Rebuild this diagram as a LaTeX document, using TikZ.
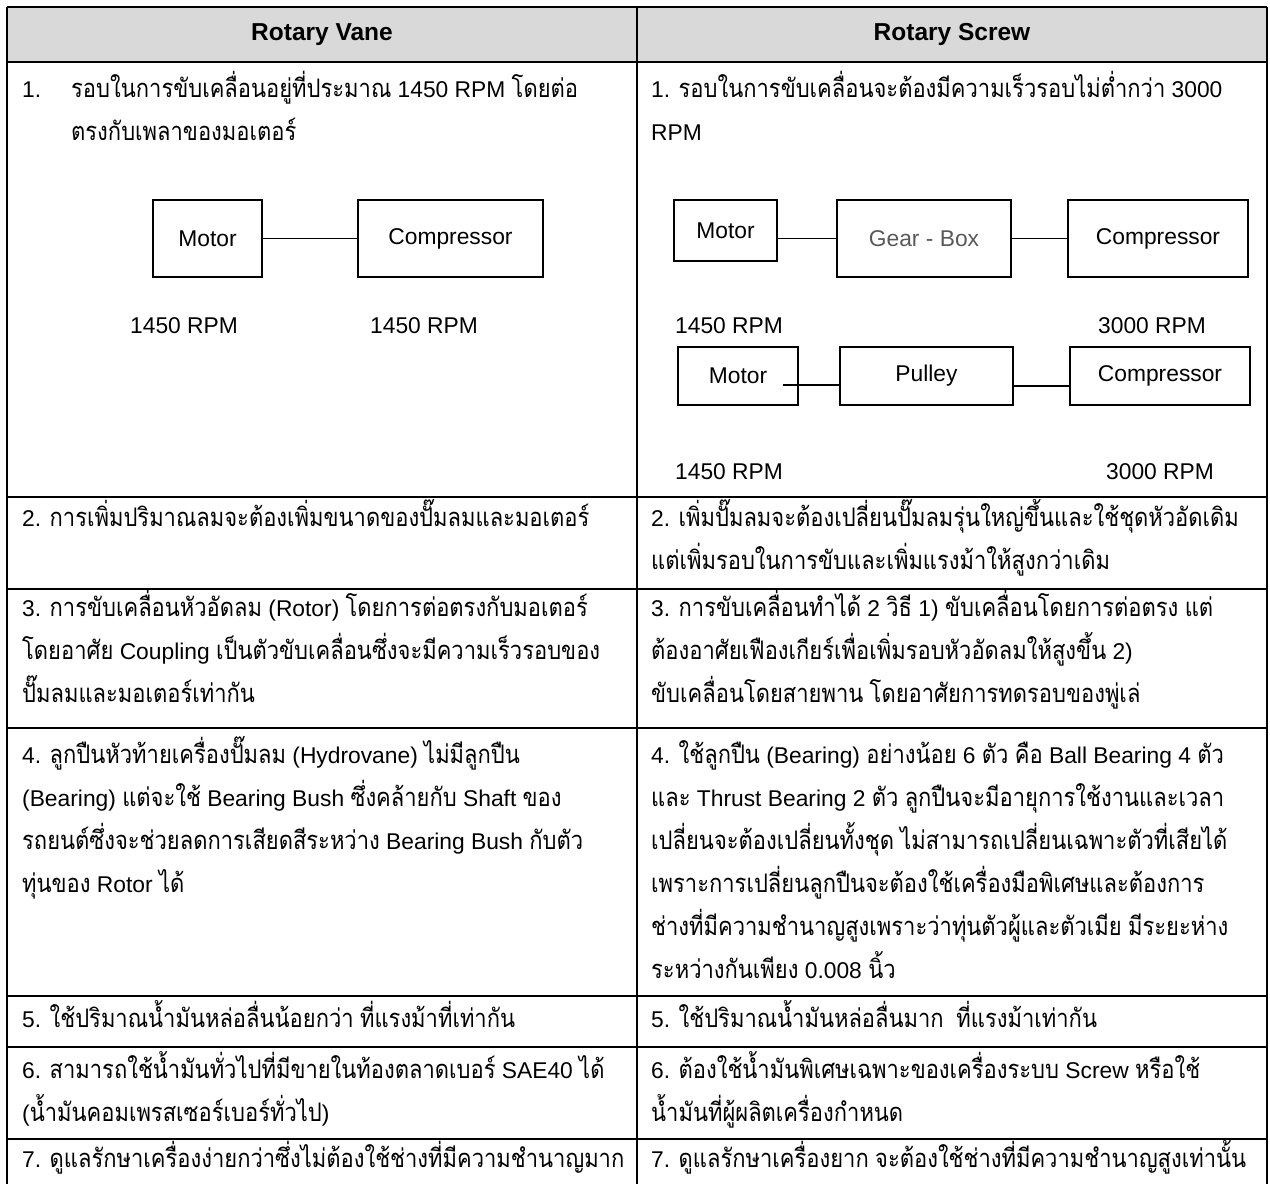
\documentclass[tikz,border=0pt]{standalone}
\usepackage{fontspec}
\setmainfont{Liberation Sans}
\newfontfamily\thaifont[Script=Thai, Scale=1.12, FakeStretch=0.86]{Loma}
\newfontfamily\latinfont{Liberation Sans}
% Thai letters switch to the Thai font by themselves
\newXeTeXintercharclass\thaiclass
\newcount\thaichar
\thaichar="0E01
\loop
  \XeTeXcharclass\thaichar=\thaiclass
  \ifnum\thaichar<"0E7F \advance\thaichar by 1
\repeat
\XeTeXinterchartoks 0 \thaiclass = {\thaifont}
\XeTeXinterchartoks 4095 \thaiclass = {\thaifont}
\XeTeXinterchartoks \thaiclass 0 = {\latinfont}
\XeTeXinterchartoks \thaiclass 4095 = {\latinfont}
\XeTeXinterchartokenstate=1
\newcommand{\cellfont}{\fontsize{22.8}{43}\selectfont}
\definecolor{headgray}{HTML}{D9D9D9}
\definecolor{geargray}{HTML}{595959}
\tikzset{
  tbl/.style={line width=1.8pt},
  cell/.style={anchor=north west, inner sep=0pt, yshift=30.1pt, align=left},
  blk/.style 2 args={draw, line width=1.3pt, inner sep=0pt,
    minimum width=#1pt, minimum height=#2pt},
  link/.style={line width=1.3pt},
  rpm/.style={anchor=base west, inner sep=0pt}
}

\begin{document}
\begin{tikzpicture}[x=1pt, y=-1pt, font=\cellfont]
\useasboundingbox (0,0) rectangle (1270,1184);
% table
\fill[headgray] (7,7) rectangle (1267,62);
\foreach \y in {7,62,497,589,728,996,1047,1139}
  \draw[tbl] (7,\y) -- (1267,\y);
\foreach \x in {7,637,1267}
  \draw[tbl] (\x,7) -- (\x,1184);
\node[font=\fontsize{24.5}{30}\selectfont\bfseries] (headL) at (322,34.5) {Rotary Vane};
\node[font=\fontsize{24.5}{30}\selectfont\bfseries] (headR) at (952,34.5) {Rotary Screw};

% row 1, left
\node[cell] (num1L) at (22,97) {\strut 1.};
\node[cell] (txt1L) at (71,97) {\strut รอบในการขับเคลื่อนอยู่ที่ประมาณ 1450 RPM โดยต่อ\\ตรงกับเพลาของมอเตอร์};
\node[blk={109}{77}] (motorA) at (207.5,238.5) {Motor};
\node[blk={185}{77}] (compA) at (450.5,238.5) {Compressor};
\draw[link] (motorA) -- (compA);
\node[rpm] (rpmA1) at (130,333) {1450 RPM};
\node[rpm] (rpmA2) at (370,333) {1450 RPM};

% row 1, right
\node[cell] (txt1R) at (651,97) {\strut 1. รอบในการขับเคลื่อนจะต้องมีความเร็วรอบไม่ต่ำกว่า 3000\\RPM};
\node[blk={103}{61}] (motorB) at (725.5,230.5) {Motor};
\node[blk={174}{77}, text=geargray] (gearB) at (924,238.5) {Gear - Box};
\node[blk={180}{77}] (compB) at (1158,238.5) {Compressor};
\draw[link] (gearB.west) -- (gearB.west -| motorB.east);
\draw[link] (gearB) -- (compB);
\node[rpm] (rpmB1) at (675,333) {1450 RPM};
\node[rpm] (rpmB2) at (1098,333) {3000 RPM};
\node[blk={120}{58}] (motorC) at (738,376) {Motor};
\node[blk={173}{58}] (pulleyC) at (926.5,376) {Pulley};
\node[blk={180}{58}] (compC) at (1160,376) {Compressor};
\draw[link, shorten >=-16pt] ([yshift=-9pt]pulleyC.west) -- ([yshift=-9pt]motorC.east);
\draw[link] ([yshift=-10pt]pulleyC.east) -- ([yshift=-10pt]compC.west);
\node[rpm] (rpmC1) at (675,479) {1450 RPM};
\node[rpm] (rpmC2) at (1106,479) {3000 RPM};

% rows 2 to 7
\node[cell] (txt2L) at (22,526) {\strut 2. การเพิ่มปริมาณลมจะต้องเพิ่มขนาดของปั๊มลมและมอเตอร์};
\node[cell] (txt2R) at (651,526) {\strut 2. เพิ่มปั๊มลมจะต้องเปลี่ยนปั๊มลมรุ่นใหญ่ขึ้นและใช้ชุดหัวอัดเดิม\\แต่เพิ่มรอบในการขับและเพิ่มแรงม้าให้สูงกว่าเดิม};
\node[cell] (txt3L) at (22,616) {\strut 3. การขับเคลื่อนหัวอัดลม (Rotor) โดยการต่อตรงกับมอเตอร์\\โดยอาศัย Coupling เป็นตัวขับเคลื่อนซึ่งจะมีความเร็วรอบของ\\ปั๊มลมและมอเตอร์เท่ากัน};
\node[cell] (txt3R) at (651,616) {\strut 3. การขับเคลื่อนทำได้ 2 วิธี 1) ขับเคลื่อนโดยการต่อตรง แต่\\ต้องอาศัยเฟืองเกียร์เพื่อเพิ่มรอบหัวอัดลมให้สูงขึ้น 2)\\ขับเคลื่อนโดยสายพาน โดยอาศัยการทดรอบของพู่เล่};
\node[cell] (txt4L) at (22,763) {\strut 4. ลูกปืนหัวท้ายเครื่องปั๊มลม (Hydrovane) ไม่มีลูกปืน\\(Bearing) แต่จะใช้ Bearing Bush ซึ่งคล้ายกับ Shaft ของ\\รถยนต์ซึ่งจะช่วยลดการเสียดสีระหว่าง Bearing Bush กับตัว\\ทุ่นของ Rotor ได้};
\node[cell] (txt4R) at (651,763) {\strut 4. ใช้ลูกปืน (Bearing) อย่างน้อย 6 ตัว คือ Ball Bearing 4 ตัว\\และ Thrust Bearing 2 ตัว ลูกปืนจะมีอายุการใช้งานและเวลา\\เปลี่ยนจะต้องเปลี่ยนทั้งชุด ไม่สามารถเปลี่ยนเฉพาะตัวที่เสียได้\\เพราะการเปลี่ยนลูกปืนจะต้องใช้เครื่องมือพิเศษและต้องการ\\ช่างที่มีความชำนาญสูงเพราะว่าทุ่นตัวผู้และตัวเมีย มีระยะห่าง\\ระหว่างกันเพียง 0.008 นิ้ว};
\node[cell] (txt5L) at (22,1027) {\strut 5. ใช้ปริมาณน้ำมันหล่อลื่นน้อยกว่า ที่แรงม้าที่เท่ากัน};
\node[cell] (txt5R) at (651,1027) {\strut 5. ใช้ปริมาณน้ำมันหล่อลื่นมาก\ \ ที่แรงม้าเท่ากัน};
\node[cell] (txt6L) at (22,1078) {\strut 6. สามารถใช้น้ำมันทั่วไปที่มีขายในท้องตลาดเบอร์ SAE40 ได้\\(น้ำมันคอมเพรสเซอร์เบอร์ทั่วไป)};
\node[cell] (txt6R) at (651,1078) {\strut 6. ต้องใช้น้ำมันพิเศษเฉพาะของเครื่องระบบ Screw หรือใช้\\น้ำมันที่ผู้ผลิตเครื่องกำหนด};
\node[cell] (txt7L) at (22,1167) {\strut 7. ดูแลรักษาเครื่องง่ายกว่าซึ่งไม่ต้องใช้ช่างที่มีความชำนาญมาก};
\node[cell] (txt7R) at (651,1167) {\strut 7. ดูแลรักษาเครื่องยาก จะต้องใช้ช่างที่มีความชำนาญสูงเท่านั้น};
\end{tikzpicture}
\end{document}
